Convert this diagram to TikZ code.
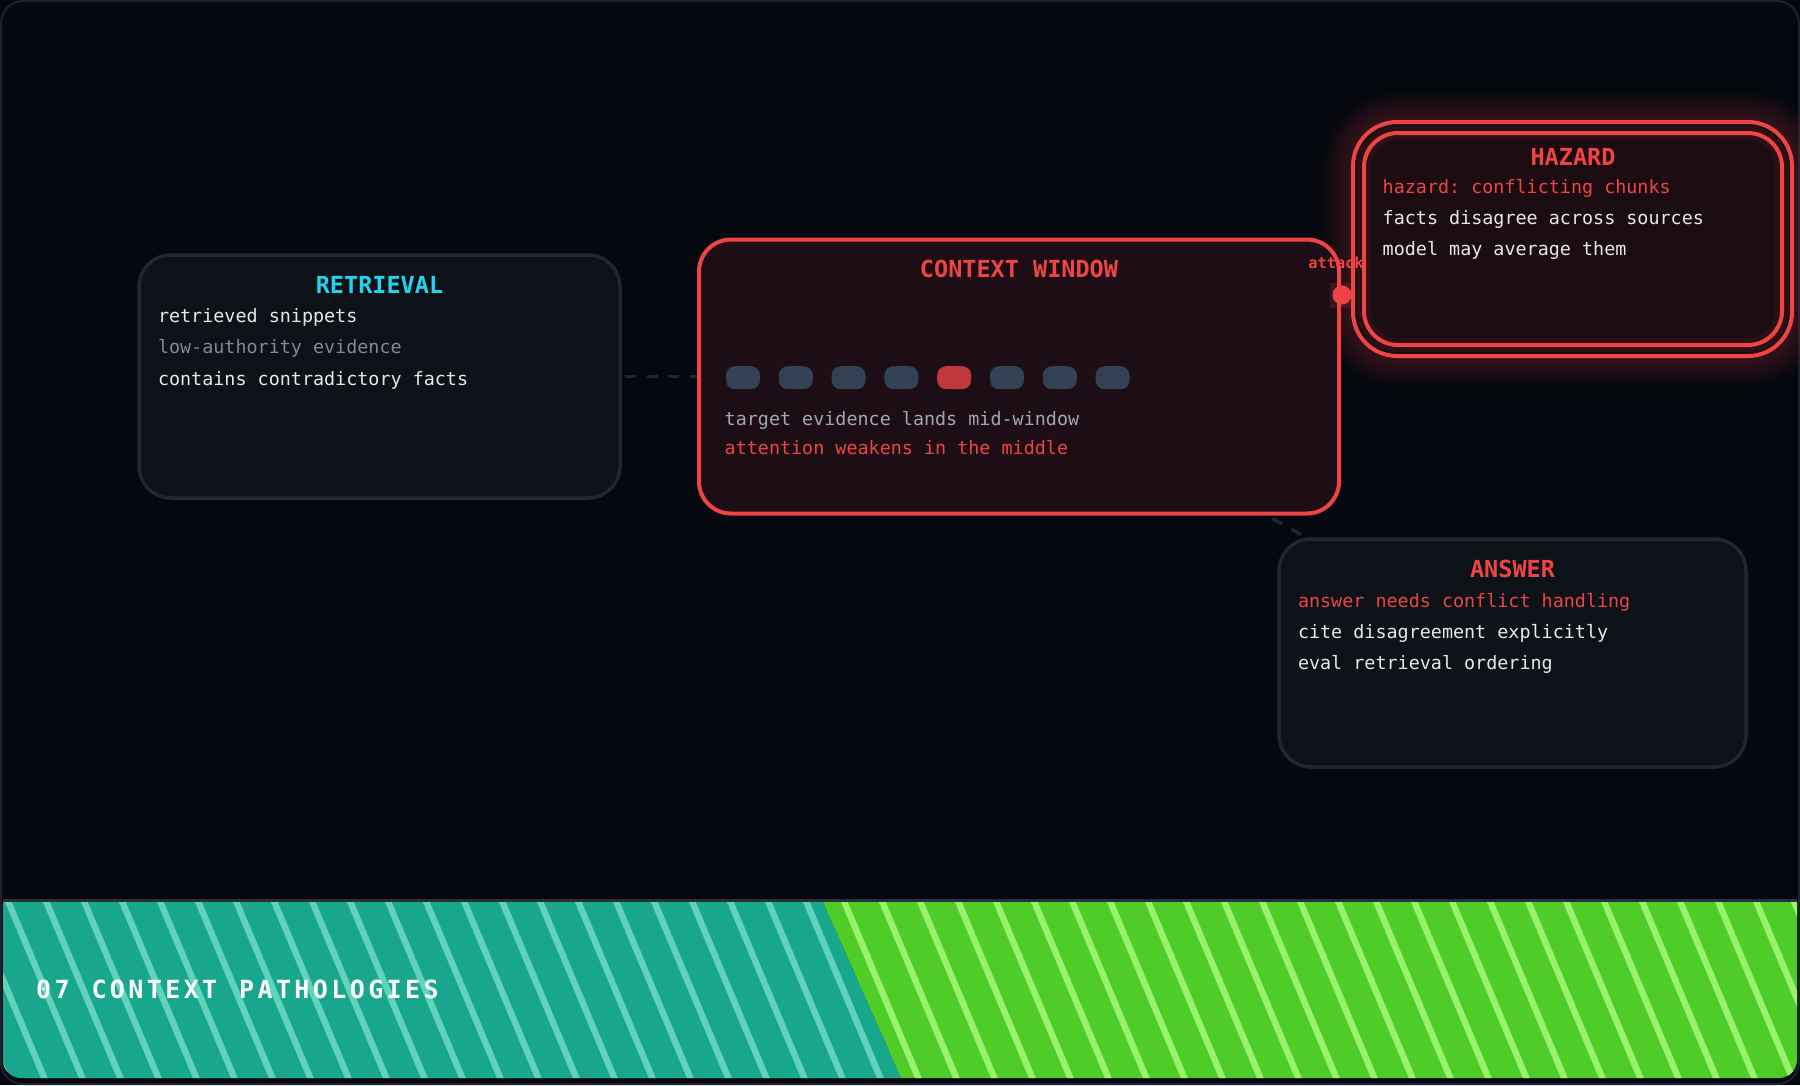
\documentclass[tikz,border=0pt]{standalone}
\usepackage{fontspec}
\setmonofont{DejaVu Sans Mono}
\usetikzlibrary{calc}
\definecolor{bgc}{HTML}{05080F}
\definecolor{framec}{HTML}{1C222B}
\definecolor{boxfill}{HTML}{0D1118}
\definecolor{boxline}{HTML}{1E2832}
\definecolor{redc}{HTML}{EF4444}
\definecolor{ctxfill}{HTML}{1C0E14}
\definecolor{hazfill}{HTML}{1A0C11}
\definecolor{cyanc}{HTML}{22D3EE}
\definecolor{whitec}{HTML}{E6E8EC}
\definecolor{grayc}{HTML}{7F899A}
\definecolor{graylc}{HTML}{A0A7B5}
\definecolor{tokc}{HTML}{334155}
\definecolor{tokred}{HTML}{C2373A}
\definecolor{dashc}{HTML}{16283D}
\definecolor{tealc}{HTML}{18A68D}
\definecolor{teals}{HTML}{61D2BC}
\definecolor{greenc}{HTML}{50CC28}
\definecolor{greens}{HTML}{97F26D}
\definecolor{footline}{HTML}{2A313A}
\def\spaced#1{\spacedA#1\relax}
\def\spacedA#1{\ifx#1\relax\else#1\kern3.4pt\expandafter\spacedA\fi}
\pgfdeclarelayer{back}
\pgfdeclarelayer{mid}
\pgfsetlayers{back,mid,main}
\tikzset{
  cbox/.style={draw=boxline, line width=3.5pt, fill=boxfill, rounded corners=32pt, inner sep=0pt, outer sep=0pt},
  ctxbox/.style={draw=redc, line width=4pt, fill=ctxfill, rounded corners=32pt, inner sep=0pt, outer sep=0pt},
  hazout/.style={draw=redc, line width=4pt, fill=hazfill, rounded corners=44pt, inner sep=0pt, outer sep=0pt},
  hazin/.style={draw=redc, line width=4pt, fill=hazfill, rounded corners=34pt, inner sep=0pt, outer sep=0pt},
  cttl/.style={font=\ttfamily\bfseries\fontsize{23.5pt}{28pt}\selectfont, anchor=base, inner sep=0pt},
  cbody/.style={font=\ttfamily\fontsize{18.4pt}{22pt}\selectfont, anchor=base west, inner sep=0pt, text=whitec},
  tokbox/.style={rounded corners=9pt, minimum width=34pt, minimum height=23pt, inner sep=0pt},
  dlink/.style={draw=dashc, line width=3.5pt, dash pattern=on 11pt off 10.5pt},
}
\begin{document}
\begin{tikzpicture}[x=1pt,y=-1pt]
\useasboundingbox (0,0) rectangle (1800,1085);
\begin{pgfonlayer}{back}
\fill[bgc] (0,0) rectangle (1800,1085);
\draw[framec, line width=2pt, rounded corners=22pt] (1,1) rectangle (1799,1084);
\foreach \d [evaluate=\d as \r using 44+\d] in {3,6,...,30} {
  \fill[redc, opacity=0.022, rounded corners=\r pt] ({1353-\d},{122-\d}) rectangle ({1792+\d},{356+\d});
}
\end{pgfonlayer}

% boxes
\node[cbox, minimum width=481pt, minimum height=243pt] (retrieval) at (379.5,376.5) {};
\node[ctxbox, minimum width=640pt, minimum height=274pt] (context) at (1019,376.5) {};
\node[cbox, minimum width=467pt, minimum height=228pt] (answer) at (1512.5,653) {};
\node[hazout, minimum width=439pt, minimum height=234pt] (hazard) at (1572.5,239) {};
\node[hazin, minimum width=418pt, minimum height=212pt] (hazardin) at (1573,239) {};
\draw[redc, opacity=0.08, line width=14pt, rounded corners=34pt] (hazardin.north west) rectangle (hazardin.south east);

% connectors
\begin{pgfonlayer}{mid}
\draw[dlink, dash phase=16.5pt] (retrieval) -- (context);
\draw[dlink, dash phase=11pt] (context) -- (answer);
\draw[redc, line width=2pt] (context) -- (hazard);
\end{pgfonlayer}

% attack marker
\node[fill=redc, opacity=0.15, minimum width=22pt, minimum height=25pt, inner sep=0pt] (attackbg) at (1341,295.5) {};
\node[circle, fill=redc, minimum size=19pt, inner sep=0pt] (attackdot) at (1342,295) {};
\node[font=\ttfamily\bfseries\fontsize{15.3pt}{18pt}\selectfont, text=redc, anchor=base, inner sep=0pt] (attacklbl) at (1336,268) {attack};

% retrieval text
\node[cttl, text=cyanc] (rtitle) at (379.5,293) {RETRIEVAL};
\node[cbody] (r1) at (157.8,322) {retrieved snippets};
\node[cbody, text=grayc] (r2) at (157.8,353.5) {low-authority evidence};
\node[cbody] (r3) at (157.8,385) {contains contradictory facts};

% context text
\node[cttl, text=redc] (ctitle) at (1019,277) {CONTEXT WINDOW};
\foreach \i/\c in {0/tokc,1/tokc,2/tokc,3/tokc,4/tokred,5/tokc,6/tokc,7/tokc}{
  \node[tokbox, fill=\c] (tok\i) at ({743+52.8*\i},377.7) {};
}
\node[cbody, text=graylc] (c1) at (724.5,425) {target evidence lands mid-window};
\node[cbody, text=redc] (c2) at (724.5,454) {attention weakens in the middle};

% hazard text
\node[cttl, text=redc] (htitle) at (1573,165) {HAZARD};
\node[cbody, text=redc] (h1) at (1382.5,193) {hazard: conflicting chunks};
\node[cbody] (h2) at (1382.5,224) {facts disagree across sources};
\node[cbody] (h3) at (1382.5,255) {model may average them};

% answer text
\node[cttl, text=redc] (atitle) at (1512.5,577) {ANSWER};
\node[cbody, text=redc] (a1) at (1297.8,607) {answer needs conflict handling};
\node[cbody] (a2) at (1297.8,638) {cite disagreement explicitly};
\node[cbody] (a3) at (1297.8,669) {eval retrieval ordering};

% footer
\begin{scope}
\clip[rounded corners=18pt] (3,860) rectangle (1797,1078);
\clip (0,902) rectangle (1800,1085);
\begin{scope}
\clip (-10,890) -- (817.7,890) -- (906.3,1090) -- (-10,1090) -- cycle;
\fill[tealc] (-10,890) rectangle (1810,1090);
\foreach \k in {-3,...,48}{
  \draw[teals, line width=6.4pt] ({8.4+38*\k-5.04},890) -- ({8.4+38*\k+78.96},1090);
}
\end{scope}
\begin{scope}
\clip (817.7,890) -- (1810,890) -- (1810,1090) -- (906.3,1090) -- cycle;
\fill[greenc] (-10,890) rectangle (1810,1090);
\foreach \k in {-3,...,48}{
  \draw[greens, line width=6.4pt] ({8.4+38*\k-5.04},890) -- ({8.4+38*\k+78.96},1090);
}
\end{scope}
\end{scope}
\draw[footline, line width=2.5pt] (3,900.5) -- (1797,900.5);
\node[font=\ttfamily\bfseries\fontsize{25pt}{30pt}\selectfont, text=white, anchor=base west, inner sep=0pt] (footer) at (36,998) {\spaced{07~CONTEXT~PATHOLOGIES}};
\end{tikzpicture}
\end{document}
